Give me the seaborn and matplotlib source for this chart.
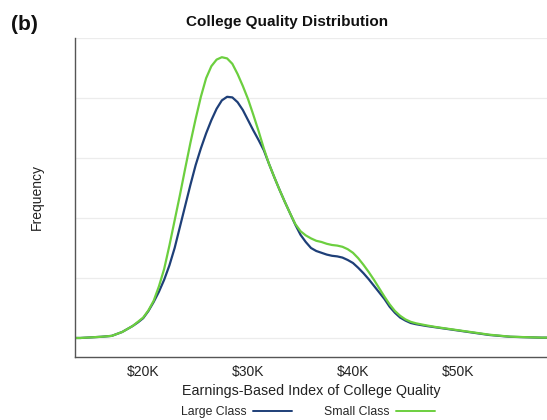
import numpy as np
import pandas as pd
import matplotlib
matplotlib.use("Agg")
import matplotlib.pyplot as plt
import seaborn as sns

# Earnings-based index of college quality, in $K
quality_k = [13.5, 14, 15, 16, 17,
             18, 18.5, 19, 19.5, 20, 20.5, 21, 21.5, 22, 22.5, 23, 23.5, 24, 24.5,
             25, 25.5, 26, 26.5, 27, 27.5, 28, 28.5, 29, 29.5, 30, 30.5, 31, 31.5,
             32, 32.5, 33, 33.5, 34, 34.5, 35, 35.5, 36, 36.5, 37, 37.5, 38, 38.5,
             39, 39.5, 40, 40.5, 41, 41.5, 42, 42.5, 43, 43.5, 44, 44.5, 45, 45.5, 46,
             47, 48, 49, 50, 51, 52, 53, 54, 55, 56, 57, 58, 58.5]

# Frequency (density, arbitrary units)
large_class = [0.0, 0.0, 0.01, 0.02, 0.035,
               0.1, 0.15, 0.2, 0.26, 0.33, 0.45, 0.6, 0.77, 0.97, 1.21, 1.5, 1.85, 2.2, 2.55,
               2.88, 3.16, 3.41, 3.63, 3.82, 3.96, 4.02, 4.01, 3.93, 3.8, 3.63, 3.46, 3.3, 3.13,
               2.9, 2.68, 2.47, 2.27, 2.08, 1.89, 1.72, 1.6, 1.5, 1.45, 1.42, 1.39, 1.37, 1.36,
               1.34, 1.3, 1.25, 1.17, 1.08, 0.98, 0.87, 0.76, 0.65, 0.52, 0.42, 0.34, 0.29, 0.25, 0.23,
               0.2, 0.175, 0.15, 0.125, 0.1, 0.075, 0.05, 0.035, 0.02, 0.015, 0.01, 0.005, 0.005]
small_class = [0.0, 0.0, 0.01, 0.02, 0.035,
               0.1, 0.15, 0.2, 0.27, 0.34, 0.46, 0.62, 0.86, 1.15, 1.54, 1.96, 2.38, 2.82, 3.25,
               3.65, 4.02, 4.33, 4.53, 4.64, 4.68, 4.66, 4.57, 4.4, 4.2, 3.98, 3.72, 3.45, 3.16,
               2.9, 2.68, 2.47, 2.27, 2.08, 1.9, 1.78, 1.71, 1.66, 1.62, 1.6, 1.57, 1.55, 1.54,
               1.52, 1.48, 1.42, 1.33, 1.22, 1.1, 0.97, 0.83, 0.69, 0.56, 0.45, 0.37, 0.31, 0.27, 0.245,
               0.21, 0.18, 0.155, 0.13, 0.105, 0.08, 0.055, 0.038, 0.022, 0.016, 0.011, 0.006, 0.006]

series_names = ["Large Class", "Small Class"]
series_colors = ["#1e3f78", "#6ccf3f"]
x_ticks = [20, 30, 40, 50]
x_tick_labels = ["$20K", "$30K", "$40K", "$50K"]

df = pd.concat([
    pd.DataFrame({"quality": quality_k, "freq": large_class, "group": series_names[0]}),
    pd.DataFrame({"quality": quality_k, "freq": small_class, "group": series_names[1]}),
])

sns.set_style("white")
plt.rcParams["font.family"] = ["Liberation Sans", "DejaVu Sans"]

fig = plt.figure(figsize=(5.47, 4.2), dpi=100)
ax = fig.add_axes([75 / 547, 63 / 420, 1 - 75 / 547, 319 / 420])

sns.lineplot(data=df, x="quality", y="freq", hue="group",
             palette=dict(zip(series_names, series_colors)),
             linewidth=1.6, ax=ax, legend=False)

ax.set_xlim(13.5, 58.5)
ax.set_ylim(-0.317, 5.0)
ax.set_yticks([0, 1, 2, 3, 4, 5])
ax.set_yticklabels([])
ax.set_xticks(x_ticks)
ax.set_xticklabels(x_tick_labels, fontsize=10, color="#222222")
ax.tick_params(axis="both", direction="in", length=4, width=1, color="#666666")
ax.tick_params(axis="x", pad=6)
ax.yaxis.grid(True, color="#ececec", linewidth=0.9)
ax.set_axisbelow(True)
for side in ["top", "right"]:
    ax.spines[side].set_visible(False)
for side in ["left", "bottom"]:
    ax.spines[side].set_color("#555555")
    ax.spines[side].set_linewidth(1.0)

ax.set_xlabel("Earnings-Based Index of College Quality", fontsize=10.3, color="#222222", labelpad=3)
ax.set_ylabel("Frequency", fontsize=10, color="#222222", labelpad=19)

fig.text(287 / 547, 1 - 22 / 420, "College Quality Distribution", ha="center", va="center",
         fontsize=11, fontweight="bold", color="#111111")
fig.text(11 / 547, 1 - 24 / 420, "(b)", ha="left", va="center",
         fontsize=15, fontweight="bold", color="#111111")

handles = [plt.Line2D([], [], color=c, linewidth=1.4) for c in series_colors]
fig.legend(handles, series_names, loc="center", bbox_to_anchor=(308 / 547, 1 - 412 / 420),
           ncol=2, frameon=False, markerfirst=False, fontsize=8.8, handlelength=3.2,
           columnspacing=2.6, handletextpad=0.5)

fig.savefig("out.png", dpi=100)
